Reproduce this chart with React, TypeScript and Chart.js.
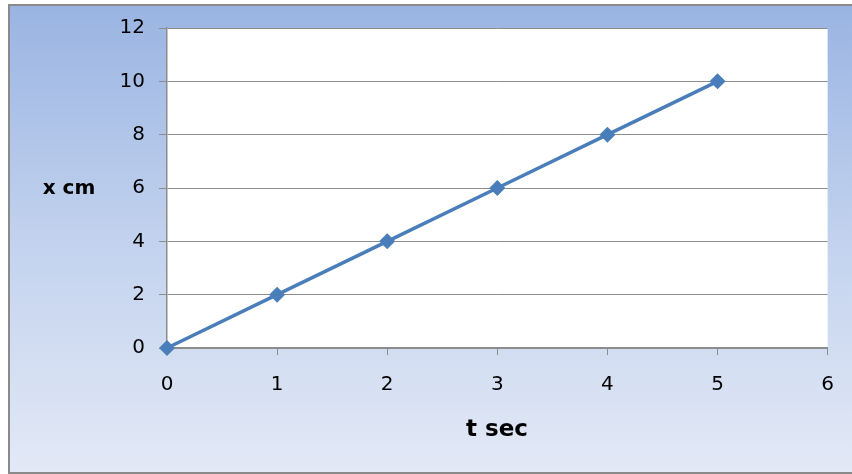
import React, { useEffect, useRef } from "react";
import { Chart, registerables } from "chart.js";

Chart.register(...registerables);

const times: number[] = [0, 1, 2, 3, 4, 5];
const distances: number[] = [0, 2, 4, 6, 8, 10];
const xTitle = "t sec";
const yTitle = "x cm";

const bgPlugin = {
  id: "bgPlugin",
  beforeDraw(chart: any) {
    const { ctx, width, height, chartArea } = chart;
    ctx.save();
    ctx.fillStyle = "#ffffff";
    ctx.fillRect(0, 0, width, height);
    const g = ctx.createLinearGradient(0, 5, 0, 473);
    g.addColorStop(0, "#9ab4e2");
    g.addColorStop(0.5, "#c2d2ee");
    g.addColorStop(1, "#e3e9f6");
    ctx.fillStyle = g;
    ctx.fillRect(9, 5, width + 10, 468);
    ctx.strokeStyle = "#8a8a8a";
    ctx.lineWidth = 2;
    ctx.strokeRect(9, 5, width + 10, 468);
    ctx.fillStyle = "#ffffff";
    ctx.fillRect(
      chartArea.left,
      chartArea.top,
      chartArea.right - chartArea.left,
      chartArea.bottom - chartArea.top
    );
    ctx.restore();
  },
  afterDraw(chart: any) {
    const { ctx } = chart;
    ctx.save();
    ctx.fillStyle = "#000000";
    ctx.textAlign = "center";
    ctx.textBaseline = "middle";
    ctx.font = "bold 20px 'DejaVu Sans'";
    ctx.fillText(yTitle, 69, 189);
    ctx.font = "bold 23px 'DejaVu Sans'";
    ctx.fillText(xTitle, 497, 430);
    ctx.restore();
  },
};

export default function App() {
  const ref = useRef<HTMLCanvasElement>(null);
  useEffect(() => {
    document.body.style.margin = "0";
    if (!ref.current) return;
    const chart = new Chart(ref.current, {
      type: "line",
      data: {
        datasets: [
          {
            data: times.map((t, i) => ({ x: t, y: distances[i] })),
            borderColor: "#4a7ebb",
            backgroundColor: "#4a7ebb",
            borderWidth: 3.5,
            pointStyle: "rectRot",
            pointRadius: 8,
            pointHoverRadius: 8,
            pointBorderWidth: 0,
            clip: false as any,
            tension: 0,
          },
        ],
      },
      options: {
        animation: false,
        responsive: false,
        layout: {
          autoPadding: false,
          padding: { left: 0, top: 28, right: 23, bottom: 0 },
        },
        plugins: {
          legend: { display: false },
          tooltip: { enabled: false },
          title: { display: false },
        },
        scales: {
          x: {
            type: "linear",
            min: 0,
            max: 6,
            ticks: {
              stepSize: 1,
              color: "#000000",
              padding: 18,
              font: { family: "'DejaVu Sans'", size: 20 },
            },
            grid: {
              drawOnChartArea: false,
              drawTicks: true,
              tickLength: 7,
              color: "#8c8c8c",
            },
            border: { display: true, color: "#8c8c8c", width: 1.5 },
            afterFit: (s: any) => {
              s.height = 126;
            },
          },
          y: {
            type: "linear",
            min: 0,
            max: 12,
            ticks: {
              stepSize: 2,
              color: "#000000",
              padding: 14,
              font: { family: "'DejaVu Sans'", size: 20 },
            },
            grid: {
              drawOnChartArea: true,
              drawTicks: true,
              tickLength: 8,
              color: "#8c8c8c",
            },
            border: { display: true, color: "#8c8c8c", width: 1.5 },
            afterFit: (s: any) => {
              s.width = 167;
            },
          },
        },
      },
      plugins: [bgPlugin],
    });
    return () => chart.destroy();
  }, []);
  return (
    <div style={{ width: 852, height: 474 }}>
      <canvas ref={ref} width={852} height={474} style={{ display: "block" }} />
    </div>
  );
}
